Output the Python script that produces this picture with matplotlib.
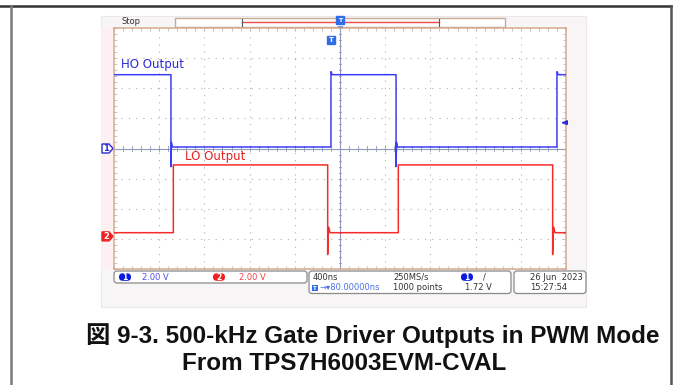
import numpy as np
import matplotlib
matplotlib.use("Agg")
import matplotlib.pyplot as plt
from matplotlib.patches import FancyBboxPatch, Rectangle, Polygon

# scope settings
time_per_div_ns = 400
volts_per_div = 2.0
n_xdiv, n_ydiv = 10, 8

# HO (ch1): edge times in ns, first edge is a fall
ho_edges_ns = [504, 1920, 2496, 3920]
ho_high_v = 4.9
ho_low_v = 0.1
ho_undershoot_v = -1.2
ho_overshoot_v = 5.1
ho_offset_div = 0.0

# LO (ch2): edge times in ns, first edge is a rise
lo_edges_ns = [525, 1891, 2516, 3882]
lo_high_v = 4.75
lo_low_v = 0.25
lo_undershoot_v = -1.2
lo_ring_v = 0.6
lo_offset_div = -2.92

trigger_level_v = 1.72
trigger_time_ns = 1920


def ho_wave():
    t = [0]
    v = [ho_high_v]
    level = ho_high_v
    for i, e in enumerate(ho_edges_ns):
        if i % 2 == 0:  # falling edge with undershoot spike
            t += [e, e, e + 4, e + 12]
            v += [ho_high_v, ho_undershoot_v, ho_low_v + 0.3, ho_low_v]
            level = ho_low_v
        else:  # rising edge with small overshoot
            t += [e, e, e + 12]
            v += [ho_low_v, ho_overshoot_v, ho_high_v]
            level = ho_high_v
    t.append(n_xdiv * time_per_div_ns)
    v.append(level)
    return np.array(t), np.array(v)


def lo_wave():
    t = [0]
    v = [lo_low_v]
    level = lo_low_v
    for i, e in enumerate(lo_edges_ns):
        if i % 2 == 0:  # clean rising edge
            t += [e, e]
            v += [lo_low_v, lo_high_v]
            level = lo_high_v
        else:  # falling edge with undershoot and ringing
            t += [e, e, e + 3, e + 10, e + 20]
            v += [lo_high_v, lo_undershoot_v, lo_ring_v, lo_ring_v, lo_low_v]
            level = lo_low_v
    t.append(n_xdiv * time_per_div_ns)
    v.append(level)
    return np.array(t), np.array(v)


W, H = 679, 385
fig = plt.figure(figsize=(W / 100, H / 100), dpi=100)
fig.patch.set_facecolor("white")

# pixel-space canvas for frame, panels and caption
bg = fig.add_axes([0, 0, 1, 1])
bg.set_xlim(0, W)
bg.set_ylim(H, 0)
bg.axis("off")

# page frame
bg.plot([0, 671], [6, 6], color="#333333", lw=1.8)
bg.plot([11, 11], [6, H], color="#7a7a7a", lw=1.8)
bg.plot([671, 671], [6, H], color="#555555", lw=1.8)

# screenshot backdrop
bg.add_patch(Rectangle((101, 16), 485, 291, facecolor="#f8f5f7", edgecolor="#ebe8ea", lw=0.8))
bg.add_patch(Rectangle((101, 27), 13, 243, facecolor="#fdf0f3", edgecolor="none"))

# top record bar
bg.text(122, 21.5, "Stop", fontsize=6, color="#333333", va="center", ha="left")
bg.add_patch(Rectangle((175, 18), 330, 8.5, facecolor="white", edgecolor="#c9aa94", lw=1))
bg.plot([242, 439], [22.3, 22.3], color="#f04848", lw=1)
bg.plot([242, 242], [18.5, 26], color="#556", lw=0.8)
bg.plot([439, 439], [18.5, 26], color="#556", lw=0.8)

# scope graticule
ax = fig.add_axes([114 / W, 1 - 269 / H, 452 / W, 241 / H])
ax.set_facecolor("white")
tmax = n_xdiv * time_per_div_ns
ax.set_xlim(0, tmax)
ax.set_ylim(-n_ydiv / 2, n_ydiv / 2)
for s in ax.spines.values():
    s.set_color("#d4ab8c")
    s.set_linewidth(1.1)
ax.set_xticks(np.arange(0, tmax + 1, time_per_div_ns / 5))
ax.set_yticks(np.arange(-4, 4.01, 0.2))
ax.tick_params(direction="in", length=2.5, width=0.6, color="#b9b9c4",
               labelbottom=False, labelleft=False, top=True, right=True)
for k in range(1, n_xdiv):
    if k != n_xdiv // 2:
        ax.axvline(k * time_per_div_ns, color="#b0b0b0", lw=0.8, ls=(0, (1, 5.5)))
for k in range(-3, 4):
    if k != 0:
        ax.axhline(k, color="#b0b0b0", lw=0.8, ls=(0, (1, 5.5)))
ax.axvline(tmax / 2, color="#8e98b8", lw=0.8)
ax.axhline(0, color="#8e98b8", lw=0.8)
for xm in np.arange(0, tmax + 1, time_per_div_ns / 5):
    ax.plot([xm, xm], [-0.07, 0.07], color="#8e98b8", lw=0.6)
for ym in np.arange(-4, 4.01, 0.2):
    ax.plot([tmax / 2 - 12, tmax / 2 + 12], [ym, ym], color="#8e98b8", lw=0.6)

# traces
t1, v1 = ho_wave()
ax.plot(t1, v1 / volts_per_div + ho_offset_div, color="#3d3df5", lw=1.1, zorder=5)
t2, v2 = lo_wave()
ax.plot(t2, v2 / volts_per_div + lo_offset_div, color="#f42c2c", lw=1.1, zorder=4)

ax.text(0.016 * tmax, 2.78, "HO Output", color="#2a2ad8", fontsize=8.5, va="center")
ax.text(0.158 * tmax, -0.25, "LO Output", color="#e82020", fontsize=8.5, va="center")

# trigger level arrow on right edge
ax.annotate("", xy=(tmax * 0.985, trigger_level_v / volts_per_div),
            xytext=(tmax * 1.0, trigger_level_v / volts_per_div),
            arrowprops=dict(arrowstyle="-|>", color="#2a2ad8", lw=1.2, mutation_scale=6),
            annotation_clip=False)
ax.plot([trigger_time_ns], [3.6], marker="s", ms=6, color="#2f6ee8", zorder=6)
ax.text(trigger_time_ns, 3.6, "T", color="white", fontsize=5, ha="center", va="center",
        fontweight="bold", zorder=7)

# trigger markers on the record bar
bg.plot([340], [20], marker="s", ms=5.5, color="#2f6ee8")
bg.text(340, 20, "T", color="white", fontsize=4.5, ha="center", va="center", fontweight="bold")
bg.plot([340], [28.5], marker="v", ms=3.5, color="#2f6ee8")

# channel ground markers
y1 = 148.5 - ho_offset_div * 30.1
y2 = 148.5 - lo_offset_div * 30.1
bg.add_patch(Polygon([[102, y1 - 4.5], [109, y1 - 4.5], [113, y1], [109, y1 + 4.5], [102, y1 + 4.5]],
                     closed=True, facecolor="white", edgecolor="#2a2ad8", lw=1))
bg.text(106, y1, "1", color="#2a2ad8", fontsize=6, ha="center", va="center", fontweight="bold")
bg.add_patch(Polygon([[102, y2 - 4.5], [109, y2 - 4.5], [113, y2], [109, y2 + 4.5], [102, y2 + 4.5]],
                     closed=True, facecolor="#ee2222", edgecolor="#ee2222", lw=1))
bg.text(106.5, y2, "2", color="white", fontsize=6, ha="center", va="center", fontweight="bold")

# status panels
for x0, w, h in [(114, 193, 12), (309, 202, 22.5), (514, 72, 22.5)]:
    bg.add_patch(FancyBboxPatch((x0, 271), w, h, boxstyle="round,pad=0,rounding_size=3",
                                facecolor="white", edgecolor="#8a8a8a", lw=0.9))
bg.add_patch(FancyBboxPatch((119, 273.3), 12, 7.5, boxstyle="round,pad=0,rounding_size=3.7",
                            facecolor="#0a18e0", edgecolor="none"))
bg.text(125, 277.2, "1", color="white", fontsize=5.5, ha="center", va="center", fontweight="bold")
bg.text(142, 277.2, "2.00 V", color="#5050ee", fontsize=6, va="center")
bg.add_patch(FancyBboxPatch((213, 273.3), 12, 7.5, boxstyle="round,pad=0,rounding_size=3.7",
                            facecolor="#ee2020", edgecolor="none"))
bg.text(219, 277.2, "2", color="white", fontsize=5.5, ha="center", va="center", fontweight="bold")
bg.text(239, 277.2, "2.00 V", color="#ee4444", fontsize=6, va="center")

bg.text(313, 277.2, "400ns", color="#333333", fontsize=6, va="center")
bg.text(393, 277.2, "250MS/s", color="#333333", fontsize=6, va="center")
bg.add_patch(FancyBboxPatch((461, 273.3), 12, 7.5, boxstyle="round,pad=0,rounding_size=3.7",
                            facecolor="#0a18e0", edgecolor="none"))
bg.text(467, 277.2, "1", color="white", fontsize=5.5, ha="center", va="center", fontweight="bold")
bg.text(483, 277.2, "/", color="#333333", fontsize=6, va="center")
bg.add_patch(Rectangle((312, 284.8), 6, 6, facecolor="#2f6ee8", edgecolor="none"))
bg.text(315, 288, "T", color="white", fontsize=4, ha="center", va="center", fontweight="bold")
bg.text(319, 288, "\u2192\u25BE80.00000ns", color="#4a70e8", fontsize=6, va="center")
bg.text(393, 288, "1000 points", color="#333333", fontsize=6, va="center")
bg.text(465, 288, "%.2f V" % trigger_level_v, color="#333333", fontsize=6, va="center")
bg.text(530, 277.2, "26 Jun  2023", color="#333333", fontsize=6, va="center")
bg.text(530, 288, "15:27:54", color="#333333", fontsize=6, va="center")

# caption
cap_font = ["Liberation Sans", "Noto Sans CJK JP"]
bg.text(373, 336, "図 9-3. 500-kHz Gate Driver Outputs in PWM Mode", family=cap_font,
        fontsize=17.5, fontweight="bold", ha="center", va="center", color="#111111")
bg.text(344, 363, "From TPS7H6003EVM-CVAL", family=cap_font,
        fontsize=17.5, fontweight="bold", ha="center", va="center", color="#111111")

fig.savefig("out.png", dpi=100)
